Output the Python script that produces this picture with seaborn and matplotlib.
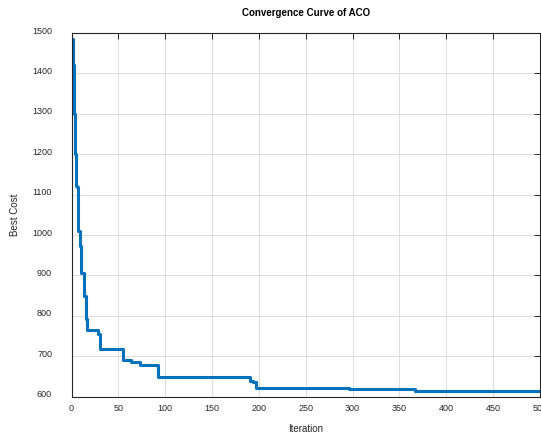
import numpy as np
import pandas as pd
import matplotlib
matplotlib.use("Agg")
import matplotlib.pyplot as plt
import matplotlib.transforms as mtransforms
import seaborn as sns

# Best-cost change points (iteration, cost); held constant until next change
iterations = [1, 2, 3, 4, 5, 6, 7, 9, 10, 13, 15, 17, 28, 30, 55, 64, 73, 92, 138, 191, 194, 197, 296, 367, 500]
best_cost = [1485, 1420, 1300, 1200, 1122, 1118, 1011, 974, 905, 850, 793, 764, 755, 719, 690, 686, 679, 650, 648, 640, 636, 621, 618, 615, 615]

title = "Convergence Curve of ACO"
xlabel = "Iteration"
ylabel = "Best Cost"
xticks = [0, 50, 100, 150, 200, 250, 300, 350, 400, 450, 500]
yticks = [600, 700, 800, 900, 1000, 1100, 1200, 1300, 1400, 1500]

df = pd.DataFrame({"Iteration": iterations, "Best Cost": best_cost})

sns.set_theme(style="white")
plt.rcParams["font.family"] = ["Liberation Sans", "DejaVu Sans"]

fig = plt.figure(figsize=(5.41, 4.36), dpi=100)
ax = fig.add_axes([0.1322, 0.0901, 0.866, 0.8342])

sns.lineplot(data=df, x="Iteration", y="Best Cost", ax=ax, color="#0072BD",
             linewidth=2.2, drawstyle="steps-post", estimator=None)

ax.set_xlim(0, 500)
ax.set_ylim(600, 1500)
ax.set_xticks(xticks)
ax.set_yticks(yticks)
ax.grid(True, color="#dcdcdc", linewidth=0.7)
ax.set_axisbelow(True)
for s in ax.spines.values():
    s.set_visible(True)
    s.set_color("#262626")
    s.set_linewidth(0.8)
ax.tick_params(axis="both", which="both", direction="in", length=4, width=0.7,
               top=True, right=True, labelsize=6.5, colors="#262626")
ax.tick_params(axis="x", pad=5)
ax.tick_params(axis="y", pad=14)
offset = mtransforms.ScaledTranslation(0, 3 / 100, fig.dpi_scale_trans)
for lab in ax.get_yticklabels():
    lab.set_transform(lab.get_transform() + offset)
ax.set_title(title, fontsize=7, fontweight="bold", pad=12.6, color="black")
ax.set_xlabel(xlabel, fontsize=7, labelpad=8, color="#262626")
ax.set_ylabel(ylabel, fontsize=7, labelpad=8.6, color="#262626")

fig.savefig("out.png", dpi=100)
